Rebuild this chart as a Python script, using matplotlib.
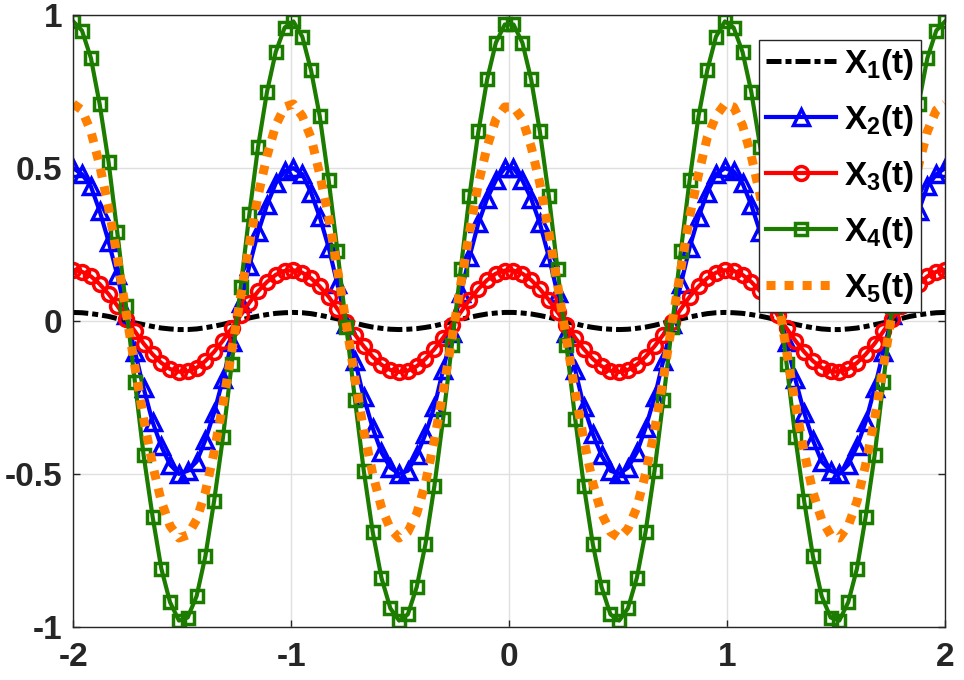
import matplotlib
matplotlib.use('Agg')
import matplotlib.pyplot as plt

plt.rcParams['font.family'] = ['Liberation Sans', 'DejaVu Sans']
plt.rcParams['font.weight'] = 'bold'
plt.rcParams['axes.unicode_minus'] = False
plt.rcParams['mathtext.fontset'] = 'custom'
plt.rcParams['mathtext.bf'] = 'Liberation Sans:bold'
plt.rcParams['mathtext.rm'] = 'Liberation Sans:bold'

# sample times
t = [-2.000, -1.960, -1.919, -1.879, -1.838, -1.798, -1.758, -1.717, -1.677, -1.636,
     -1.596, -1.556, -1.515, -1.475, -1.434, -1.394, -1.354, -1.313, -1.273, -1.232,
     -1.192, -1.152, -1.111, -1.071, -1.030, -0.990, -0.949, -0.909, -0.869, -0.828,
     -0.788, -0.747, -0.707, -0.667, -0.626, -0.586, -0.545, -0.505, -0.465, -0.424,
     -0.384, -0.343, -0.303, -0.263, -0.222, -0.182, -0.141, -0.101, -0.061, -0.020,
     0.020, 0.061, 0.101, 0.141, 0.182, 0.222, 0.263, 0.303, 0.343, 0.384,
     0.424, 0.465, 0.505, 0.545, 0.586, 0.626, 0.667, 0.707, 0.747, 0.788,
     0.828, 0.869, 0.909, 0.949, 0.990, 1.030, 1.071, 1.111, 1.152, 1.192,
     1.232, 1.273, 1.313, 1.354, 1.394, 1.434, 1.475, 1.515, 1.556, 1.596,
     1.636, 1.677, 1.717, 1.758, 1.798, 1.838, 1.879, 1.919, 1.960, 2.000]

x1 = [0.028, 0.027, 0.024, 0.020, 0.015, 0.008, 0.001, -0.006, -0.012, -0.018,
      -0.023, -0.026, -0.028, -0.028, -0.026, -0.022, -0.017, -0.011, -0.004, 0.003,
      0.010, 0.016, 0.021, 0.025, 0.027, 0.028, 0.027, 0.024, 0.019, 0.013,
      0.007, 0.000, -0.007, -0.014, -0.020, -0.024, -0.027, -0.028, -0.027, -0.025,
      -0.021, -0.016, -0.009, -0.002, 0.005, 0.012, 0.018, 0.023, 0.026, 0.028,
      0.028, 0.026, 0.023, 0.018, 0.012, 0.005, -0.002, -0.009, -0.016, -0.021,
      -0.025, -0.027, -0.028, -0.027, -0.024, -0.020, -0.014, -0.007, 0.000, 0.007,
      0.013, 0.019, 0.024, 0.027, 0.028, 0.027, 0.025, 0.021, 0.016, 0.010,
      0.003, -0.004, -0.011, -0.017, -0.022, -0.026, -0.028, -0.028, -0.026, -0.023,
      -0.018, -0.012, -0.006, 0.001, 0.008, 0.015, 0.020, 0.024, 0.027, 0.028]

x2 = [0.50, 0.48, 0.44, 0.36, 0.26, 0.15, 0.02, -0.10, -0.22, -0.33,
      -0.41, -0.47, -0.50, -0.49, -0.46, -0.39, -0.30, -0.19, -0.07, 0.06,
      0.18, 0.29, 0.38, 0.45, 0.49, 0.50, 0.48, 0.42, 0.34, 0.24,
      0.12, -0.01, -0.13, -0.25, -0.35, -0.43, -0.48, -0.50, -0.49, -0.44,
      -0.37, -0.28, -0.16, -0.04, 0.09, 0.21, 0.32, 0.40, 0.46, 0.50,
      0.50, 0.46, 0.40, 0.32, 0.21, 0.09, -0.04, -0.16, -0.28, -0.37,
      -0.44, -0.49, -0.50, -0.48, -0.43, -0.35, -0.25, -0.13, -0.01, 0.12,
      0.24, 0.34, 0.42, 0.48, 0.50, 0.49, 0.45, 0.38, 0.29, 0.18,
      0.06, -0.07, -0.19, -0.30, -0.39, -0.46, -0.49, -0.50, -0.47, -0.41,
      -0.33, -0.22, -0.10, 0.02, 0.15, 0.26, 0.36, 0.44, 0.48, 0.50]

x3 = [0.167, 0.161, 0.146, 0.121, 0.088, 0.050, 0.008, -0.034, -0.074, -0.109,
      -0.137, -0.157, -0.166, -0.165, -0.153, -0.131, -0.101, -0.064, -0.024, 0.019,
      0.060, 0.097, 0.128, 0.151, 0.164, 0.166, 0.158, 0.140, 0.113, 0.079,
      0.039, -0.003, -0.045, -0.083, -0.117, -0.143, -0.160, -0.167, -0.163, -0.148,
      -0.124, -0.092, -0.055, -0.013, 0.029, 0.069, 0.105, 0.134, 0.155, 0.165,
      0.165, 0.155, 0.134, 0.105, 0.069, 0.029, -0.013, -0.055, -0.092, -0.124,
      -0.148, -0.163, -0.167, -0.160, -0.143, -0.117, -0.083, -0.045, -0.003, 0.039,
      0.079, 0.113, 0.140, 0.158, 0.166, 0.164, 0.151, 0.128, 0.097, 0.060,
      0.019, -0.024, -0.064, -0.101, -0.131, -0.153, -0.165, -0.166, -0.157, -0.137,
      -0.109, -0.074, -0.034, 0.008, 0.050, 0.088, 0.121, 0.146, 0.161, 0.167]

x4 = [0.98, 0.95, 0.86, 0.71, 0.52, 0.29, 0.05, -0.20, -0.44, -0.64,
      -0.81, -0.92, -0.98, -0.97, -0.90, -0.77, -0.59, -0.38, -0.14, 0.11,
      0.35, 0.57, 0.75, 0.88, 0.96, 0.98, 0.93, 0.82, 0.67, 0.46,
      0.23, -0.02, -0.26, -0.49, -0.69, -0.84, -0.94, -0.98, -0.96, -0.87,
      -0.73, -0.54, -0.32, -0.08, 0.17, 0.41, 0.62, 0.79, 0.91, 0.97,
      0.97, 0.91, 0.79, 0.62, 0.41, 0.17, -0.08, -0.32, -0.54, -0.73,
      -0.87, -0.96, -0.98, -0.94, -0.84, -0.69, -0.49, -0.26, -0.02, 0.23,
      0.46, 0.67, 0.82, 0.93, 0.98, 0.96, 0.88, 0.75, 0.57, 0.35,
      0.11, -0.14, -0.38, -0.59, -0.77, -0.90, -0.97, -0.98, -0.92, -0.81,
      -0.64, -0.44, -0.20, 0.05, 0.29, 0.52, 0.71, 0.86, 0.95, 0.98]

x5 = [0.71, 0.69, 0.62, 0.51, 0.37, 0.21, 0.03, -0.15, -0.32, -0.47,
      -0.59, -0.67, -0.71, -0.70, -0.65, -0.56, -0.43, -0.27, -0.10, 0.08,
      0.25, 0.41, 0.54, 0.64, 0.70, 0.71, 0.67, 0.60, 0.48, 0.34,
      0.17, -0.01, -0.19, -0.36, -0.50, -0.61, -0.68, -0.71, -0.69, -0.63,
      -0.53, -0.39, -0.23, -0.06, 0.12, 0.29, 0.45, 0.57, 0.66, 0.70,
      0.70, 0.66, 0.57, 0.45, 0.29, 0.12, -0.06, -0.23, -0.39, -0.53,
      -0.63, -0.69, -0.71, -0.68, -0.61, -0.50, -0.36, -0.19, -0.01, 0.17,
      0.34, 0.48, 0.60, 0.67, 0.71, 0.70, 0.64, 0.54, 0.41, 0.25,
      0.08, -0.10, -0.27, -0.43, -0.56, -0.65, -0.70, -0.71, -0.67, -0.59,
      -0.47, -0.32, -0.15, 0.03, 0.21, 0.37, 0.51, 0.62, 0.69, 0.71]

labels = [r'$\mathbf{X_1}$(t)', r'$\mathbf{X_2}$(t)', r'$\mathbf{X_3}$(t)',
          r'$\mathbf{X_4}$(t)', r'$\mathbf{X_5}$(t)']
xticks = [-2, -1, 0, 1, 2]
yticks = [-1, -0.5, 0, 0.5, 1]
ytick_labels = ['-1', '-0.5', '0', '0.5', '1']

fig = plt.figure(figsize=(9.64, 6.8), dpi=100)
ax = fig.add_axes([0.076, 0.0784, 0.9043, 0.8991])

ax.plot(t, x1, color='black', lw=3.6, dashes=(3, 0.8, 1.2, 0.8), label=labels[0])
ax.plot(t, x2, color='#0000ff', lw=3, marker='^', ms=11, mew=2.5, mfc='none', label=labels[1])
ax.plot(t, x3, color='#ff0000', lw=3, marker='o', ms=10, mew=2.5, mfc='none', label=labels[2])
ax.plot(t, x4, color='#1c7c00', lw=3, marker='s', ms=8.5, mew=2.5, mfc='none', label=labels[3])
ax.plot(t, x5, color='#ff8000', lw=6.5, dashes=(1, 1), solid_capstyle='butt',
        dash_capstyle='butt', label=labels[4])

ax.set_xlim(-2, 2)
ax.set_ylim(-1, 1)
ax.set_xticks(xticks)
ax.set_xticklabels([str(v) for v in xticks])
ax.set_yticks(yticks)
ax.set_yticklabels(ytick_labels)
ax.grid(True, color='#e0e0e0', lw=1)
ax.set_axisbelow(True)
ax.tick_params(axis='both', direction='in', length=5, width=1, colors='#262626',
               labelsize=24, top=True, right=True)
ax.tick_params(axis='x', pad=11)
ax.tick_params(axis='y', pad=8)
for s in ax.spines.values():
    s.set_color('#262626')
    s.set_linewidth(1)

leg = ax.legend(loc='upper right', bbox_to_anchor=(0.9725, 0.9596), borderaxespad=0,
                fontsize=24, handlelength=2.1, handletextpad=0.25, labelspacing=0.63,
                borderpad=0.2, fancybox=False, framealpha=1, edgecolor='#262626')
leg.get_frame().set_linewidth(1)
for txt in leg.get_texts():
    txt.set_fontweight('bold')

fig.savefig('out.png', dpi=100)
